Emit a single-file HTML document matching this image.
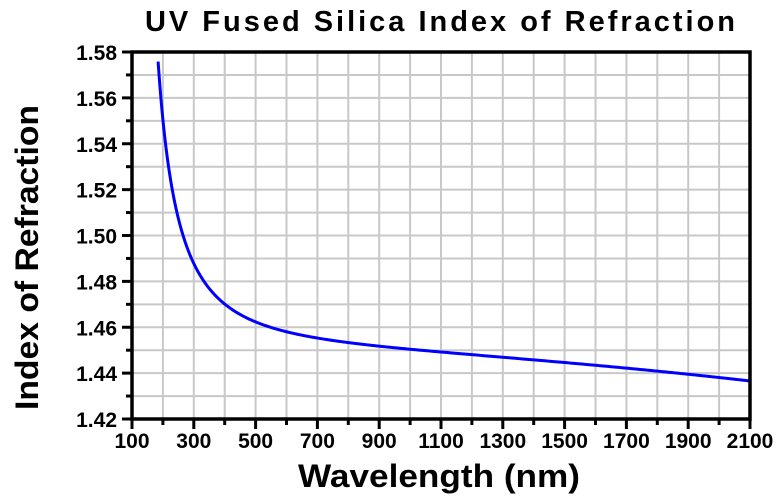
<!DOCTYPE html>
<html><head><style>
html,body{margin:0;padding:0;background:#fff;}
svg text{font-family:"Liberation Sans",Arial,sans-serif;}
</style></head><body>
<svg id="s" width="780" height="497" xmlns="http://www.w3.org/2000/svg">
<rect width="780" height="497" fill="#fff"/>
<g id="grid" stroke="#c8c8c8" stroke-width="2"></g>
<g id="ticks" stroke="#000" stroke-width="3"></g>
<g id="labels" font-size="21" fill="#000" font-weight="bold"></g>
<path id="curve" fill="none" stroke="#0000ff" stroke-width="3"/>
<rect x="132" y="52" width="618" height="367" fill="none" stroke="#000" stroke-width="3.5"/>
<text x="145" y="31" font-size="29" font-weight="bold" textLength="590" lengthAdjust="spacing">UV Fused Silica Index of Refraction</text>
<text x="298" y="487" font-size="32" font-weight="bold" textLength="282" lengthAdjust="spacingAndGlyphs">Wavelength (nm)</text>
<text transform="translate(38,410) rotate(-90)" font-size="32" font-weight="bold" textLength="305" lengthAdjust="spacingAndGlyphs">Index of Refraction</text>
</svg>
<script>
var L=132,R=750,T=52,B=419;
function X(w){return L+(w-100)*(R-L)/2000;}
function Y(n){return B-(n-1.42)*(B-T)/0.16;}
var ns="http://www.w3.org/2000/svg";
function el(p,t,a,txt){var e=document.createElementNS(ns,t);for(var k in a)e.setAttribute(k,a[k]);if(txt)e.textContent=txt;document.getElementById(p).appendChild(e);}
for(var w=200;w<2100;w+=100){el('grid','line',{x1:X(w),x2:X(w),y1:T,y2:B});}
for(var i=1;i<16;i++){var y=Y(1.42+i*0.01);el('grid','line',{x1:L,x2:R,y1:y,y2:y});}
for(var w=100;w<=2100;w+=100){var maj=(w%200==100);el('ticks','line',{x1:X(w),x2:X(w),y1:B,y2:B+(maj?10:6)});
 if(maj)el('labels','text',{x:X(w),y:B+29,'text-anchor':'middle'},String(w));}
for(var i=0;i<=16;i++){var n=1.42+i*0.01,y=Y(n),maj=(i%2==0);el('ticks','line',{x1:L-(maj?10:6),x2:L,y1:y,y2:y});
 if(maj)el('labels','text',{x:L-15,y:y+8,'text-anchor':'end'},n.toFixed(2));}
function idx(w){var l=w/1000,l2=l*l;var s=1+0.6961663*l2/(l2-0.0684043*0.0684043)+0.4079426*l2/(l2-0.1162414*0.1162414)+0.8974794*l2/(l2-9.896161*9.896161);return Math.sqrt(s);}
var d='';for(var w=184.5;w<=2100;w+=(w<400?0.5:5)){d+=(d?'L':'M')+X(w).toFixed(2)+','+Y(idx(w)).toFixed(2);}
document.getElementById('curve').setAttribute('d',d);
</script>
</body></html>
